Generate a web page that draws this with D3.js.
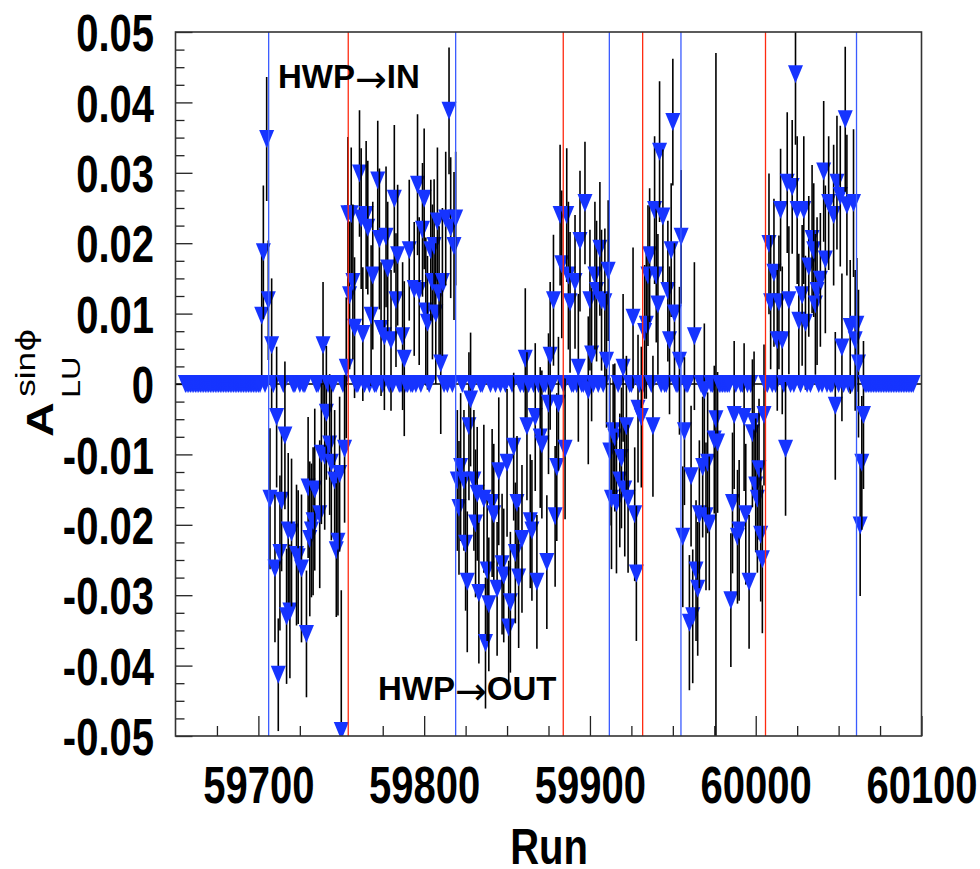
<!DOCTYPE html>
<html>
<head>
<meta charset="utf-8">
<script src="https://cdn.jsdelivr.net/npm/d3@7"></script>
<style>body{margin:0;background:#fff}</style>
</head>
<body>
<script>
const runs = [
59702,59703,59705,59706,59707,59708,59710,59711,59712,59713,59714,59716,59717,59718,59719,59720,59723,59724,59726,59729,59730,59731,59732,59733,59734,59737,59738,59739,59740,59741,59743,59744,59746,59747,59748,59749,59750,59752,59753,59754,59755,59756,59757,59758,
59761,59762,59763,59765,59766,59768,59769,59772,59773,59774,59776,59777,59778,59780,59782,59783,59784,59787,59788,59791,59794,59796,59797,59799,59800,59801,59802,59804,59805,59806,59807,59808,59809,59810,59811,59813,59815,59816,59818,59819,
59820,59821,59822,59824,59825,59826,59827,59828,59830,59831,59832,59833,59836,59837,59838,59839,59841,59842,59844,59845,59847,59848,59850,59851,59852,59854,59855,59856,59857,59859,59861,59862,59864,59865,59867,59868,59870,59871,59874,59875,59876,59878,59879,59880,59881,59882,59883,
59885,59886,59887,59888,59891,59893,59894,59897,59899,59900,59901,59903,59904,59906,59907,59909,59910,59911,59912,59913,59914,59915,59916,59918,59919,59920,59921,59922,59923,59926,59927,59928,59929,59931,59933,59934,59935,59936,59938,59939,59940,59941,59942,
59944,59947,59948,59949,59950,59951,59954,59955,59956,59957,59960,59961,59962,59963,59964,59965,59966,59968,59969,59970,59971,59972,59975,59976,59977,59985,59986,59987,59989,59990,59993,59994,59996,59998,59999,60000,60001,60002,60003,60004,60005,
60008,60009,60011,60013,60014,60015,60016,60018,60019,60020,60022,60024,60025,60026,60028,60029,60030,60032,60034,60035,60036,60037,60039,60041,60042,60044,60047,60048,60049,60051,60052,60054,60055,60057,60059,60060,60061,60062,60063,60064,60065
];
const asym = [
0.0097,0.0187,0.0348,0.0119,-0.0163,0.0055,-0.0262,-0.0047,-0.0413,-0.0240,-0.0166,-0.0073,-0.0330,-0.0208,-0.0323,-0.0211,-0.0243,-0.0246,-0.0262,-0.0355,-0.0147,-0.0220,-0.0208,-0.0195,-0.0150,-0.0185,-0.0099,0.0055,-0.0102,-0.0041,-0.0086,-0.0112,-0.0137,-0.0236,-0.0224,-0.0128,-0.0493,-0.0092,0.0023,0.0241,0.0126,0.0241,0.0145,0.0080,
0.0299,0.0235,0.0071,0.0240,0.0222,0.0097,0.0154,0.0289,0.0206,0.0078,0.0068,0.0209,0.0164,0.0062,0.0263,0.0119,0.0183,0.0068,0.0036,0.0190,0.0135,0.0283,0.0132,0.0219,0.0263,0.0103,0.0087,0.0190,0.0145,0.0196,0.0100,0.0231,0.0129,0.0029,0.0145,0.0235,0.0388,0.0222,0.0196,0.0235,
-0.0137,-0.0176,-0.0118,-0.0137,-0.0227,-0.0281,-0.0060,-0.0022,-0.0137,-0.0198,-0.0156,-0.0297,-0.0163,-0.0368,-0.0265,-0.0313,-0.0169,-0.0185,-0.0291,-0.0124,-0.0256,-0.0272,-0.0112,-0.0346,-0.0310,-0.0089,-0.0240,-0.0169,-0.0275,-0.0220,0.0036,-0.0060,-0.0195,-0.0208,-0.0047,-0.0281,-0.0076,-0.0086,-0.0253,-0.0028,0.0040,0.0119,-0.0188,-0.0118,-0.0028,0.0240,0.0170,
-0.0092,0.0240,0.0154,0.0116,0.0145,0.0023,0.0203,0.0257,-0.0009,0.0119,0.0042,0.0154,0.0132,0.0192,0.0119,0.0116,0.0033,0.0161,-0.0096,-0.0163,-0.0067,-0.0076,-0.0169,-0.0137,-0.0105,0.0023,-0.0150,-0.0060,-0.0163,0.0094,-0.0185,-0.0269,-0.0035,-0.0047,0.0074,0.0084,0.0154,0.0183,-0.0060,0.0247,0.0154,0.0113,0.0330,
0.0238,0.0132,0.0062,0.0190,0.0372,0.0100,0.0033,0.0209,-0.0217,-0.0067,-0.0339,-0.0131,-0.0330,0.0068,-0.0265,-0.0291,-0.0185,-0.0118,-0.0009,-0.0188,-0.0112,-0.0198,-0.0079,-0.0050,-0.0083,-0.0307,-0.0169,-0.0044,-0.0217,-0.0208,-0.0047,-0.0185,-0.0281,-0.0070,-0.0054,-0.0144,-0.0163,-0.0121,-0.0214,-0.0249,-0.0044,
0.0199,0.0116,0.0158,0.0062,0.0116,0.0247,0.0062,-0.0092,0.0286,0.0119,0.0280,0.0440,0.0247,0.0090,0.0126,0.0247,0.0087,0.0167,0.0206,0.0190,0.0113,0.0132,0.0148,0.0302,0.0177,0.0257,0.0240,-0.0031,0.0286,0.0267,0.0052,0.0376,0.0254,0.0081,0.0257,0.0062,0.0084,0.0029,-0.0201,-0.0112,-0.0044
];
const errs = [
0.0090,0.0095,0.0088,0.0085,0.0100,0.0095,0.0105,0.0100,0.0080,0.0110,0.0100,0.0105,0.0096,0.0110,0.0095,0.0105,0.0100,0.0095,0.0105,0.0090,0.0100,0.0110,0.0095,0.0105,0.0115,0.0105,0.0100,0.0090,0.0105,0.0095,0.0100,0.0110,0.0100,0.0095,0.0105,0.0110,0.0200,0.0105,0.0100,0.0110,0.0105,0.0095,0.0110,0.0100,
0.0090,0.0100,0.0095,0.0105,0.0095,0.0100,0.0105,0.0085,0.0100,0.0095,0.0105,0.0100,0.0095,0.0100,0.0105,0.0095,0.0100,0.0105,0.0110,0.0100,0.0095,0.0100,0.0105,0.0095,0.0100,0.0105,0.0095,0.0100,0.0110,0.0095,0.0100,0.0105,0.0095,0.0100,0.0105,0.0095,0.0090,0.0100,0.0105,0.0095,
0.0100,0.0095,0.0105,0.0100,0.0095,0.0100,0.0105,0.0095,0.0100,0.0105,0.0095,0.0100,0.0105,0.0093,0.0100,0.0095,0.0105,0.0100,0.0095,0.0105,0.0100,0.0095,0.0105,0.0095,0.0100,0.0105,0.0100,0.0095,0.0100,0.0105,0.0100,0.0105,0.0095,0.0100,0.0105,0.0095,0.0100,0.0105,0.0095,0.0100,0.0105,0.0093,0.0100,0.0105,0.0095,0.0100,0.0105,
0.0100,0.0095,0.0105,0.0100,0.0095,0.0105,0.0100,0.0087,0.0105,0.0100,0.0095,0.0105,0.0100,0.0095,0.0100,0.0105,0.0095,0.0100,0.0105,0.0100,0.0095,0.0105,0.0100,0.0095,0.0100,0.0105,0.0095,0.0100,0.0105,0.0100,0.0095,0.0096,0.0105,0.0100,0.0095,0.0105,0.0100,0.0095,0.0100,0.0105,0.0095,0.0100,0.0100,
0.0095,0.0100,0.0105,0.0095,0.0090,0.0100,0.0105,0.0095,0.0100,0.0105,0.0096,0.0100,0.0095,0.0105,0.0100,0.0095,0.0105,0.0100,0.0095,0.0105,0.0100,0.0095,0.0105,0.0520,0.0100,0.0095,0.0100,0.0105,0.0095,0.0100,0.0105,0.0100,0.0095,0.0105,0.0100,0.0095,0.0105,0.0100,0.0095,0.0105,0.0100,
0.0100,0.0095,0.0105,0.0100,0.0095,0.0087,0.0105,0.0095,0.0100,0.0105,0.0095,0.0100,0.0105,0.0095,0.0100,0.0105,0.0095,0.0100,0.0105,0.0095,0.0100,0.0105,0.0095,0.0100,0.0105,0.0095,0.0100,0.0105,0.0095,0.0100,0.0105,0.0103,0.0100,0.0095,0.0105,0.0100,0.0095,0.0105,0.0100,0.0095,0.0105
];
const blueLines = [59706.2, 59819.0, 59911.7, 59954.9, 60060.8];
const redLines = [59754.2, 59883.9, 59931.8, 60005.9];
const yTickValues = [0.05, 0.04, 0.03, 0.02, 0.01, 0, -0.01, -0.02, -0.03, -0.04, -0.05];
const yTickLabels = ["0.05", "0.04", "0.03", "0.02", "0.01", "0", "-0.01", "-0.02", "-0.03", "-0.04", "-0.05"];
const xTickValues = [59700, 59800, 59900, 60000, 60100];
const xTickLabels = ["59700", "59800", "59900", "60000", "60100"];
const firstBin = 59656, lastBin = 60095;

const font = "'Liberation Sans', Arial, Helvetica, sans-serif";
const fL = 175.5, fR = 921.5, fT = 32, fB = 736;

const svg = d3.select(document.body)
.append('svg')
.attr('width', 980)
.attr('height', 869);

const x = d3.scaleLinear().domain([59650, 60100]).range([fL, fR]);
const y = d3.scaleLinear().domain([-0.05, 0.05]).range([fB, fT]);

// minor + major ticks, inside the frame
const yMinor = d3.range(-0.05, 0.0501, 0.0025).filter(v => Math.abs(Math.round(v * 100) - v * 100) > 1e-6);
const xMinor = d3.range(59675, 60100, 25).filter(v => v % 100 !== 0);

svg.append('g')
.attr('transform', `translate(${fL},0)`)
.call(d3.axisLeft(y).tickValues(yMinor).tickSize(-9).tickFormat(''))
.call(g => g.select('.domain').remove())
.call(g => g.selectAll('line').attr('stroke', '#222').attr('stroke-width', 1.3));

svg.append('g')
.attr('transform', `translate(${fL},0)`)
.call(d3.axisLeft(y).tickValues(yTickValues).tickSize(-17).tickPadding(21.5)
  .tickFormat((d, i) => yTickLabels[i]))
.call(g => g.select('.domain').remove())
.call(g => g.selectAll('line').attr('stroke', '#222').attr('stroke-width', 1.3))
.call(g => g.selectAll('text')
  .attr('font-family', font).attr('font-size', 40).attr('font-weight', 'bold')
  .attr('fill', '#000').attr('dy', '0.36em').attr('transform', 'scale(1,1.3)'));

svg.append('g')
.attr('transform', `translate(0,${fB})`)
.call(d3.axisBottom(x).tickValues(xMinor).tickSize(-10).tickFormat(''))
.call(g => g.select('.domain').remove())
.call(g => g.selectAll('line').attr('stroke', '#222').attr('stroke-width', 1.3));

svg.append('g')
.attr('transform', `translate(0,${fB})`)
.call(d3.axisBottom(x).tickValues(xTickValues).tickSize(-20)
  .tickFormat((d, i) => xTickLabels[i]))
.call(g => g.select('.domain').remove())
.call(g => g.selectAll('line').attr('stroke', '#222').attr('stroke-width', 1.3))
.call(g => g.selectAll('text')
  .attr('font-family', font).attr('font-size', 40).attr('font-weight', 'bold')
  .attr('fill', '#000').attr('y', 51.5).attr('dy', 0).attr('transform', 'scale(1,1.3)'));

// data
const byRun = new Map(runs.map((r, i) => [r, i]));
const bins = d3.range(firstBin, lastBin + 1).map(r => byRun.has(r)
  ? {run: r, v: asym[byRun.get(r)], e: errs[byRun.get(r)]}
  : {run: r, v: 0, e: 0});

svg.append('clipPath').attr('id', 'frame')
.append('rect').attr('x', fL).attr('y', fT).attr('width', fR - fL).attr('height', fB - fT);

const plot = svg.append('g').attr('clip-path', 'url(#frame)');

plot.append('line')
.attr('x1', fL).attr('x2', fR)
.attr('y1', y(0)).attr('y2', y(0))
.attr('stroke', '#000').attr('stroke-width', 1.3);

const tri = 'M-7.5,-9L7.5,-9L0,9Z';
const pt = plot.selectAll('g.pt').data(bins).join('g')
.attr('class', 'pt')
.attr('transform', d => `translate(${x(d.run)},0)`);

pt.filter(d => d.e > 0).append('line')
.attr('y1', d => y(d.v - d.e)).attr('y2', d => y(d.v + d.e))
.attr('stroke', '#000').attr('stroke-width', 1.6);

pt.append('path')
.attr('d', tri)
.attr('transform', d => `translate(0,${y(d.v)})`)
.attr('fill', '#1634ff');

plot.selectAll('line.blue').data(blueLines).join('line')
.attr('class', 'blue')
.attr('x1', d => x(d)).attr('x2', d => x(d))
.attr('y1', fT).attr('y2', fB)
.attr('stroke', '#3a5cff').attr('stroke-width', 1.3);

plot.selectAll('line.red').data(redLines).join('line')
.attr('class', 'red')
.attr('x1', d => x(d)).attr('x2', d => x(d))
.attr('y1', fT).attr('y2', fB)
.attr('stroke', '#ff2a10').attr('stroke-width', 1.3);

svg.append('rect')
.attr('x', fL).attr('y', fT)
.attr('width', fR - fL).attr('height', fB - fT)
.attr('fill', 'none').attr('stroke', '#333').attr('stroke-width', 1.6);

// HWP labels
function hwp(x0, y0, state) {
  const t = svg.append('text')
  .attr('x', x0).attr('y', y0)
  .attr('font-family', font).attr('font-size', 33).attr('font-weight', 'bold')
  .attr('fill', '#000');
  t.append('tspan').text('HWP');
  t.append('tspan').attr('font-family', "'DejaVu Sans', sans-serif")
  .attr('font-weight', 'normal').attr('font-size', 38).attr('dy', 4).text('→');
  t.append('tspan').attr('dy', -4).text(state);
}
hwp(278, 88, 'IN');
hwp(378, 700, 'OUT');

// axis titles
svg.append('text')
.attr('transform', 'translate(549,864) scale(1,1.25)')
.attr('text-anchor', 'middle')
.attr('font-family', font).attr('font-size', 40).attr('font-weight', 'bold')
.text('Run');

const yt = svg.append('g').attr('transform', 'translate(53,437) rotate(-90) scale(1.3,1)')
.attr('font-family', font).attr('fill', '#000');
yt.append('text').attr('x', 0).attr('y', 0).attr('font-size', 37).attr('font-weight', 'bold').text('A');
yt.append('text').attr('x', 30).attr('y', 27).attr('font-size', 25).text('LU');
const sup = yt.append('text').attr('x', 31).attr('y', -18).attr('font-size', 27);
sup.append('tspan').text('sin');
sup.append('tspan').attr('font-family', "'DejaVu Sans', sans-serif").text('ϕ');
</script>
</body>
</html>
